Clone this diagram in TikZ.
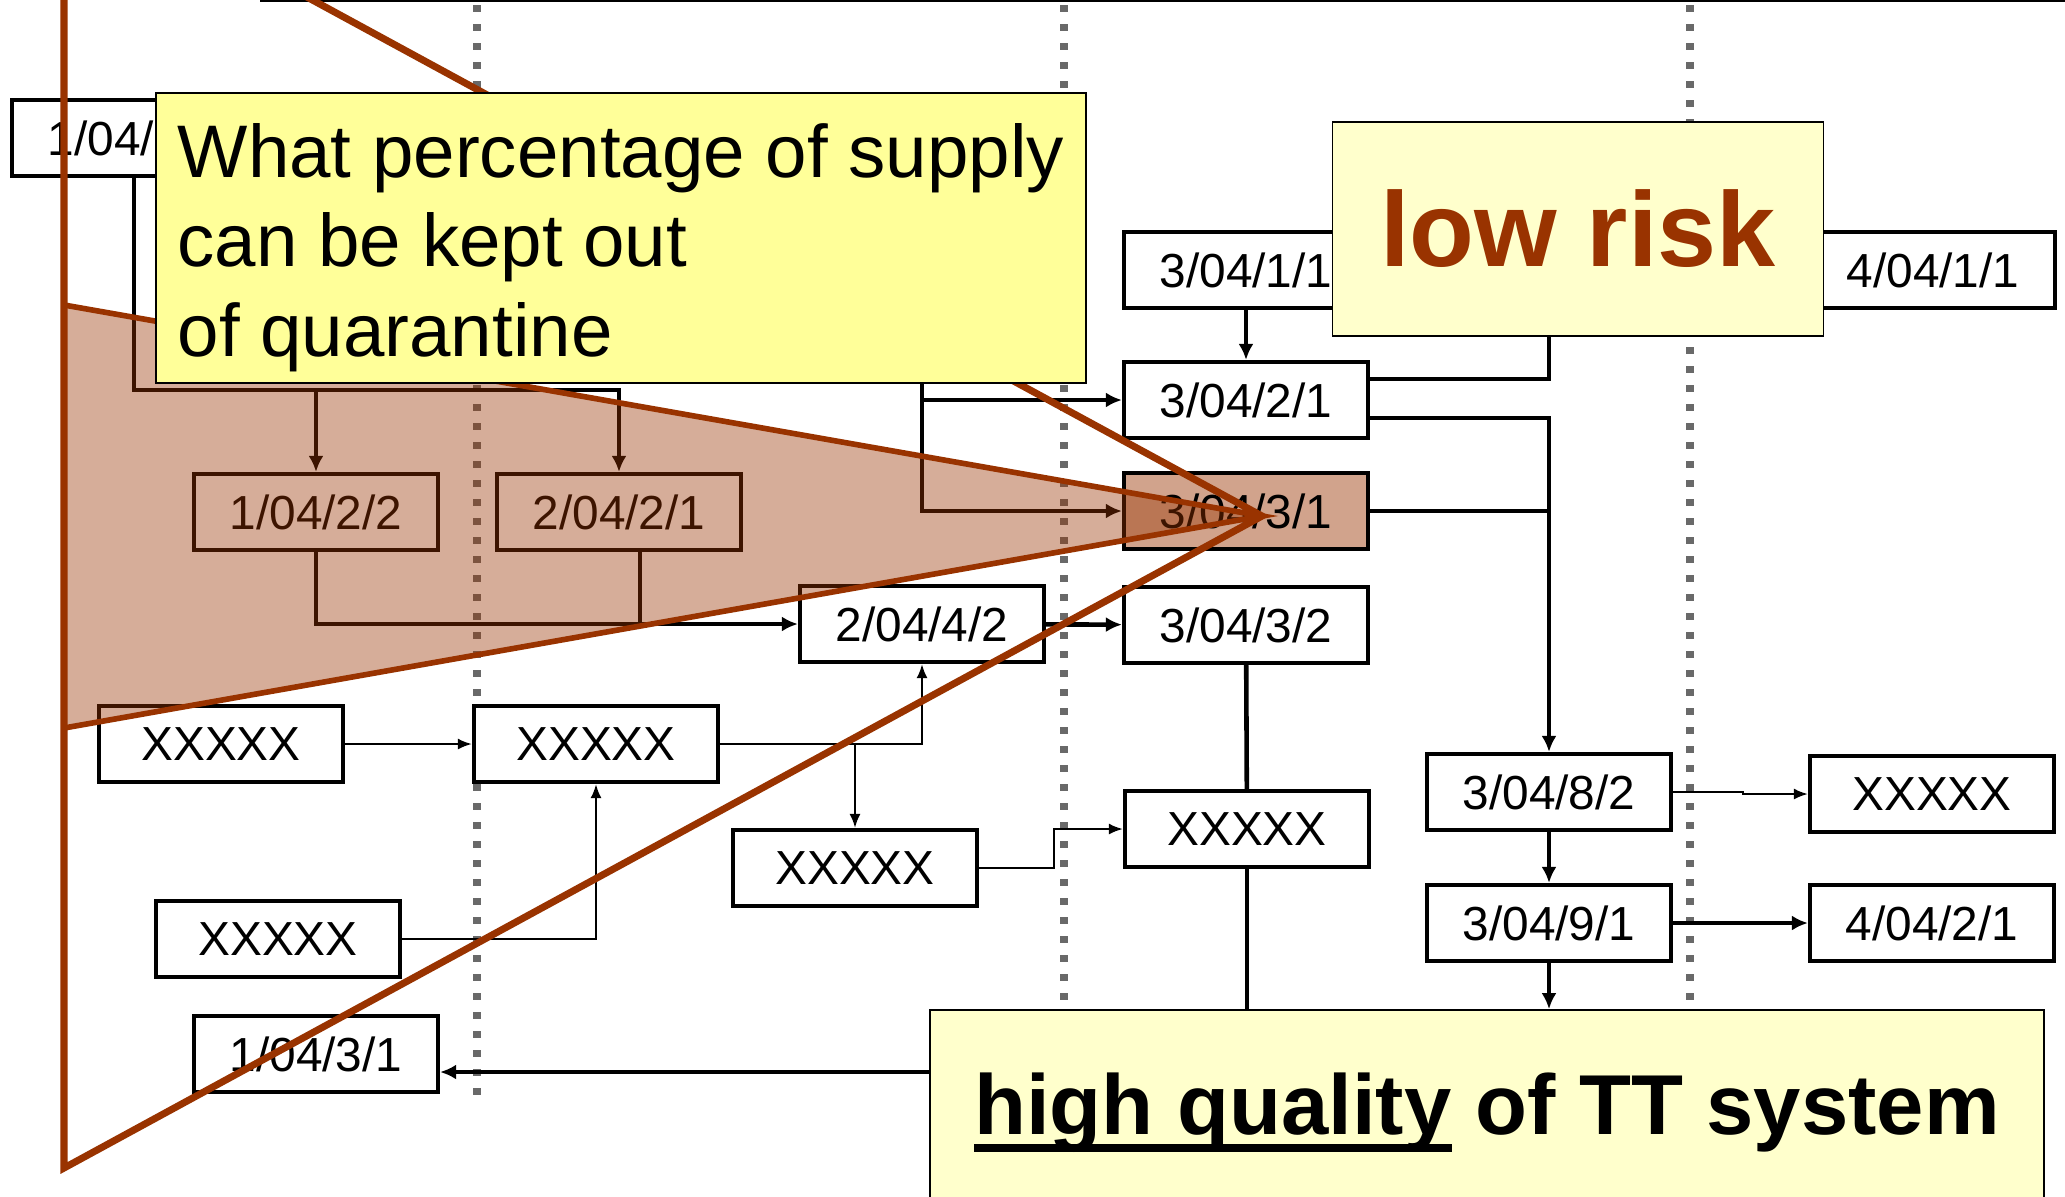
\documentclass[tikz,border=0pt]{standalone}
\usepackage{fontspec}
\setmainfont{Liberation Sans}
\usetikzlibrary{arrows.meta}
\definecolor{rust}{RGB}{153,51,0}
\definecolor{pale}{RGB}{255,255,153}
\definecolor{cream}{RGB}{255,255,204}
\definecolor{tint}{RGB}{209,163,140}
\definecolor{sepgray}{RGB}{105,105,105}
\newcommand\ulbar[1]{\setbox0\hbox{#1}\rlap{\rule[-4.85pt]{\wd0}{2.3pt}}\box0\relax}
\begin{document}
\begin{tikzpicture}[x=0.1mm,y=-0.1mm,
  >={Latex[length=1.6mm,width=1.5mm]},
  stage/.style={draw,line width=1.2pt,fill=white,minimum width=24.4mm,minimum height=7.6mm,inner sep=0pt,font=\fontsize{13.6}{16}\selectfont},
  conn/.style={line width=1.3pt},
  wire/.style={line width=0.6pt,>={Latex[length=1.4mm,width=1.1mm]}},
  sep/.style={sepgray,line width=0.8mm,dash pattern=on 0.7mm off 1.2mm},
  note/.style={draw,line width=0.5pt,inner sep=0pt}]
\useasboundingbox(0,0)rectangle(2065,1196);
\clip(0,0)rectangle(2065,1196);
\draw[line width=0.6pt](260,1)--(2065,1);
\foreach \x/\e in {477/1100,1064/1196,1690/1196}
  \draw[sep](\x,5)--(\x,\e);
% stages
\node[stage](n11)at(134,138){1/04/1/1};
\node[stage](n122)at(316,512){1/04/2/2};
\node[stage](n221)at(619,512){2/04/2/1};
\node[stage](n242)at(922,624){2/04/4/2};
\node[stage](xa)at(221,744){XXXXX};
\node[stage](xb)at(596,744){XXXXX};
\node[stage](xc)at(855,868){XXXXX};
\node[stage](xd)at(278,939){XXXXX};
\node[stage](n131)at(316,1054){1/04/3/1};
\node[stage](n311)at(1246,270){3/04/1/1};
\node[stage](n321)at(1246,400){3/04/2/1};
\node[stage,fill=tint](n331)at(1246,511){3/04/3/1};
\node[stage](n332)at(1246,625){3/04/3/2};
\node[stage](xe)at(1247,829){XXXXX};
\node[stage](n382)at(1549,792){3/04/8/2};
\node[stage](n391)at(1549,923){3/04/9/1};
\node[stage](xf)at(1932,794){XXXXX};
\node[stage](n421)at(1932,923){4/04/2/1};
\node[stage](n411)at(1933,270){4/04/1/1};
% links
\coordinate(split)at(134,390);
\draw[conn,->](n11)--(split)-|(n221);
\draw[conn,->](split-|n122)--(n122);
\draw[conn,->](n122)|-(n242);
\draw[conn]([xshift=2.1mm]n221.south)--([xshift=2.1mm]n221.south|-n242);
\draw[conn,->](n242)--(n332);
\draw[wire,->](xa)--(xb);
\draw[wire,->](xb)-|(n242);
\draw[wire,->](xb.east-|xc)--(xc);
\draw[wire,->](xd)-|(xb);
\draw[wire,->](xc.east)--++(75,0)|-(xe);
\draw[conn](n332)--(xe);
\draw[conn,->](n311)--(n321);
\coordinate(risk)at(1549,300);
\draw[conn](risk)|-([yshift=2.1mm]n321.east);
\draw[conn,->]([yshift=-1.8mm]n321.east)-|(n382);
\draw[conn](n331)--(n331-|n382);
\coordinate(query)at(922,330);
\draw[conn,->](query)|-(n331);
\draw[conn,->](query|-n321)--(n321);
\draw[wire,->](n382.east)--++(70,0)|-(xf);
\draw[conn,->](n382)--(n391);
\draw[conn,->](n391)--(n421);
% focus
\draw[rust,line width=1.6pt,fill=rust,fill opacity=0.4](64,305)--(1262,516)--(64,728)--cycle;
\draw[rust,line width=2pt](64,-135)--(1262,516)--(64,1168)--cycle;
% notes
\node[note,fill=pale,anchor=north west,minimum width=93mm,minimum height=29mm,align=left,
  font=\fontsize{21.2}{25.5}\selectfont](quest)at(155,92){\rule{0pt}{7.3mm}What percentage of supply\\can be kept out\\of quarantine};
\node[note,fill=cream,minimum width=49.1mm,minimum height=21.4mm,text=rust,
  font=\fontsize{30.2}{36}\selectfont\bfseries](lowrisk)at(1578,229){low risk};
\node[note,fill=cream,minimum width=111.4mm,minimum height=20.6mm,
  font=\fontsize{24.2}{29}\selectfont\bfseries](hq)at(1487,1113){\ulbar{high quality} of TT system};
\coordinate(back)at([yshift=-1.8mm]n131.east);
\draw[conn,->](back-|hq.west)--(back);
\draw[conn](xe)--(xe|-hq.north);
\draw[conn,->](n391)--(n391|-hq.north);
\end{tikzpicture}
\end{document}
